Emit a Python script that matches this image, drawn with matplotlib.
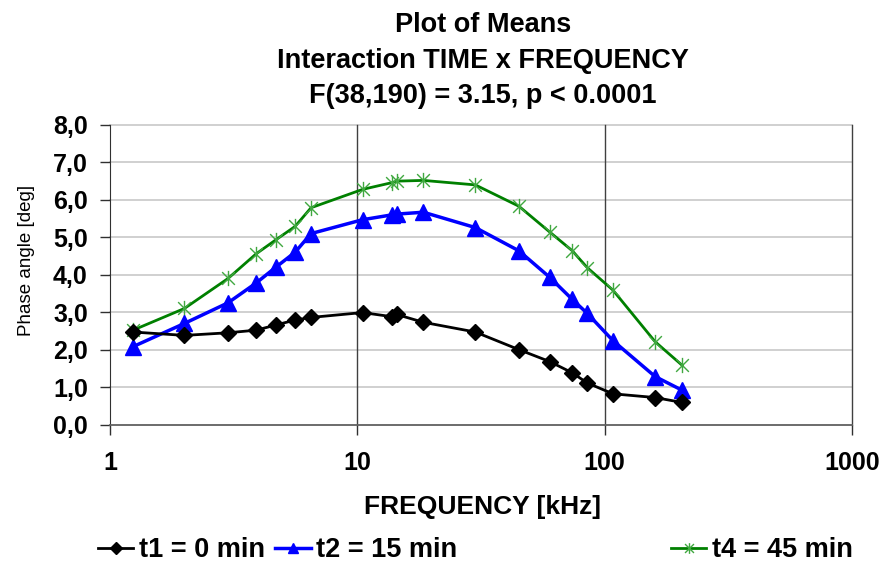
import matplotlib
matplotlib.use('Agg')
import matplotlib.pyplot as plt
from matplotlib.path import Path
from matplotlib.ticker import FixedLocator, FuncFormatter, NullLocator

# frequencies [kHz] and mean phase angle [deg] for each time
freq = [1.24, 2.0, 3.0, 3.9, 4.7, 5.6, 6.5, 10.5, 13.8, 14.4, 18.5, 30, 45, 60, 74, 85, 108, 160, 205]
t1 = [2.47, 2.38, 2.45, 2.52, 2.66, 2.79, 2.86, 2.99, 2.88, 2.94, 2.73, 2.47, 2.00, 1.68, 1.38, 1.11, 0.82, 0.72, 0.59]
t2 = [2.08, 2.70, 3.25, 3.78, 4.21, 4.60, 5.10, 5.47, 5.60, 5.62, 5.67, 5.26, 4.64, 3.93, 3.34, 2.97, 2.24, 1.28, 0.92]
t4 = [2.52, 3.10, 3.90, 4.56, 4.94, 5.29, 5.79, 6.28, 6.46, 6.50, 6.52, 6.40, 5.83, 5.14, 4.64, 4.19, 3.59, 2.21, 1.59]

x_ticks = [1, 10, 100, 1000]
y_ticks = [0, 1, 2, 3, 4, 5, 6, 7, 8]

plt.rcParams['font.family'] = ['Liberation Sans', 'DejaVu Sans']

# Excel style star: an X with a vertical bar
star = Path([(-1, -1), (1, 1), (-1, 1), (1, -1), (0, -1.2), (0, 1.2)],
            [Path.MOVETO, Path.LINETO, Path.MOVETO, Path.LINETO, Path.MOVETO, Path.LINETO])

W, H = 885, 563
fig = plt.figure(figsize=(W / 100, H / 100), dpi=100)
ax = fig.add_axes([110 / W, 1 - 424.5 / H, 742 / W, 299.5 / H])

l1, = ax.plot(freq, t1, color='black', lw=2, marker='D', ms=8.5,
              mfc='black', mec='black', label='t1 = 0 min', zorder=5)
l2, = ax.plot(freq, t2, color='#0000ff', lw=2.5, marker='^', ms=11,
              mfc='#0000ff', mec='#0000ff', label='t2 = 15 min', zorder=4)
l4, = ax.plot(freq, t4, color='#008000', lw=2, marker=star, ms=11,
              mec='#40a840', mfc='none', mew=1, label='t4 = 45 min', zorder=3)

ax.set_xscale('log')
ax.set_xlim(1, 1000)
ax.set_ylim(0, 8)
ax.xaxis.set_major_locator(FixedLocator(x_ticks))
ax.xaxis.set_minor_locator(NullLocator())
ax.xaxis.set_major_formatter(FuncFormatter(lambda v, p: f'{v:g}'))
ax.yaxis.set_major_locator(FixedLocator(y_ticks))
ax.yaxis.set_major_formatter(FuncFormatter(lambda v, p: f'{v:.1f}'.replace('.', ',')))

# horizontal grid light grey, vertical grid dark
for y in y_ticks[1:]:
    ax.axhline(y, color='#c4c4c4', lw=1.1, zorder=1, clip_on=False)
for x in x_ticks[1:]:
    ax.axvline(x, color='#404040', lw=1, zorder=1, clip_on=False)

for s in ['top', 'right']:
    ax.spines[s].set_visible(False)
ax.spines['left'].set_color('#303030')
ax.spines['bottom'].set_color('#606060')
ax.spines['bottom'].set_linewidth(1.3)

ax.tick_params(axis='both', direction='out', length=7, width=1, color='#303030')
ax.tick_params(axis='y', pad=9, labelsize=18)
ax.tick_params(axis='x', pad=12, labelsize=18)
for lab in ax.get_xticklabels() + ax.get_yticklabels():
    lab.set_fontweight('bold')

cx = 483 / W
fig.text(cx, 1 - 32 / H, 'Plot of Means', ha='center', va='baseline', fontsize=19.5, fontweight='bold')
fig.text(cx, 1 - 67.5 / H, 'Interaction TIME x FREQUENCY', ha='center', va='baseline', fontsize=19.5, fontweight='bold')
fig.text(cx, 1 - 103 / H, 'F(38,190) = 3.15, p < 0.0001', ha='center', va='baseline', fontsize=19.5, fontweight='bold')

fig.text(483 / W, 1 - 507 / H, 'FREQUENCY [kHz]', ha='center', va='center', fontsize=19, fontweight='bold')
fig.text(27 / W, 1 - 260 / H, 'Phase angle [deg]', ha='center', va='center', rotation=90, fontsize=13.5)

leg_kw = dict(frameon=False, handlelength=1.3, handletextpad=0.2, columnspacing=0.4,
              markerscale=0.7, borderaxespad=0, borderpad=0,
              prop={'weight': 'bold', 'size': 19.5})
fig.legend(handles=[l1, l2], loc='center left', ncol=2,
           bbox_to_anchor=(98 / W, 1 - 550 / H), **leg_kw)
fig.legend(handles=[l4], loc='center left', ncol=1,
           bbox_to_anchor=(671 / W, 1 - 550 / H), **leg_kw)

fig.savefig('out.png', dpi=100)
